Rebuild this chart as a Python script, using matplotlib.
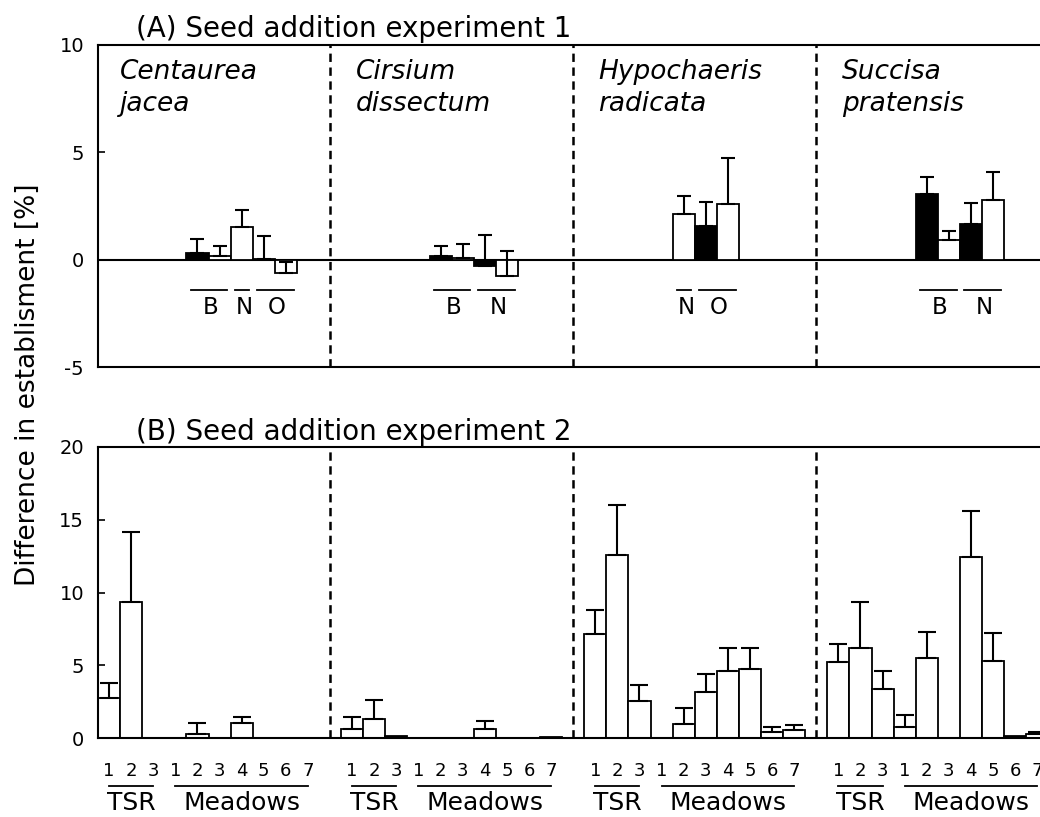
import numpy as np
import matplotlib
matplotlib.use('Agg')
import matplotlib.pyplot as plt
from matplotlib.transforms import blended_transform_factory

plt.rcParams['font.family'] = ['DejaVu Sans']
plt.rcParams['lines.scale_dashes'] = False

nan = np.nan

# ---------------- data ----------------
species_genus = ['Centaurea', 'Cirsium', 'Hypochaeris', 'Succisa']
species_epithet = ['jacea', 'dissectum', 'radicata', 'pratensis']

# Panel A: experiment 1 (slot index within each species block)
a_pos = [[4, 5, 6, 7, 8], [4, 5, 6, 7], [4, 5, 6], [4, 5, 6, 7]]
a_val = [[0.33, 0.15, 1.50, 0.05, -0.60],
         [0.19, 0.06, -0.28, -0.78],
         [2.14, 1.55, 2.60],
         [3.08, 0.93, 1.65, 2.77]]
a_err = [[0.65, 0.50, 0.80, 1.05, 0.50],
         [0.43, 0.69, 1.45, 1.17],
         [0.83, 1.12, 2.12],
         [0.78, 0.41, 0.97, 1.33]]
a_fill = [['k', 'w', 'w', 'k', 'w'],
          ['k', 'w', 'k', 'w'],
          ['w', 'k', 'w'],
          ['k', 'w', 'k', 'w']]
a_groups = [[('B', 4, 5), ('N', 6, 6), ('O', 7, 8)],
            [('B', 4, 5), ('N', 6, 7)],
            [('N', 4, 4), ('O', 5, 6)],
            [('B', 4, 5), ('N', 6, 7)]]

# Panel B: experiment 2 (TSR 1-3, Meadows 1-7)
b_ticklabels = ['1', '2', '3', '1', '2', '3', '4', '5', '6', '7']
b_val = [[2.77, 9.33, nan, nan, 0.25, nan, 1.00, nan, nan, nan],
         [0.60, 1.28, 0.14, nan, nan, nan, 0.60, nan, nan, 0.10],
         [7.15, 12.58, 2.57, nan, 0.94, 3.16, 4.60, 4.74, 0.39, 0.55],
         [5.25, 6.21, 3.34, 0.78, 5.52, nan, 12.42, 5.29, 0.12, 0.27]]
b_err = [[1.03, 4.83, nan, nan, 0.75, nan, 0.42, nan, nan, nan],
         [0.87, 1.33, nan, nan, nan, nan, 0.57, nan, nan, nan],
         [1.65, 3.42, 1.07, nan, 1.14, 1.22, 1.60, 1.46, 0.34, 0.34],
         [1.21, 3.16, 1.26, 0.78, 1.74, nan, 3.20, 1.90, nan, 0.16]]
b_fill = [['w'] * 10,
          ['w', 'w', 'k', 'w', 'w', 'w', 'w', 'w', 'w', 'k'],
          ['w'] * 10,
          ['w', 'w', 'w', 'w', 'w', 'w', 'w', 'w', 'k', 'w']]
b_groups = [('TSR', 0, 2), ('Meadows', 3, 9)]

BLOCK = 11
W, H = 1040, 817

fig = plt.figure(figsize=(W / 100, H / 100), dpi=100)

left = 98 / W
unit_px = 22.1
xlo, xhi = -0.5, 43.5
width = (xhi - xlo) * unit_px / W

axA = fig.add_axes([left, (H - 367) / H, width, (367 - 45) / H])
axB = fig.add_axes([left, (H - 738) / H, width, (738 - 447) / H])

LW = 1.5
for ax in (axA, axB):
    ax.set_xlim(xlo, xhi)
    ax.set_xticks([])
    for sp in ax.spines.values():
        sp.set_linewidth(LW)
    ax.tick_params(axis='y', direction='in', length=5, width=1.2,
                   labelsize=14, pad=10)
    for s in range(1, 4):
        ax.axvline(s * BLOCK - 1, color='k', lw=1.8, dashes=(6, 4))

# ---- Panel A ----
axA.set_ylim(-5, 10)
axA.set_yticks([-5, 0, 5, 10])
axA.set_yticklabels(['-5', '0', '5', '10'])
axA.axhline(0, color='k', lw=LW, zorder=1)
for s in range(4):
    x = [s * BLOCK + p for p in a_pos[s]]
    axA.bar(x, a_val[s], width=1.0, color=a_fill[s], edgecolor='k',
            linewidth=1.3, zorder=2)
    axA.errorbar(x, a_val[s], yerr=[np.zeros(len(x)), a_err[s]], fmt='none',
                 ecolor='k', elinewidth=1.5, capsize=5, capthick=1.5, zorder=3)
    for lab, f, l in a_groups[s]:
        axA.plot([s * BLOCK + f - 0.3, s * BLOCK + l + 0.35], [-1.4, -1.4],
                 color='k', lw=1.3)
        axA.text(s * BLOCK + (f + l) / 2 + 0.1, -2.25, lab, ha='center',
                 va='center', fontsize=16.5)

for s in range(4):
    xt = max(s * BLOCK + 0.15, 0.5)
    axA.text(xt, 8.41, species_genus[s], style='italic', fontsize=19,
             ha='left', va='baseline')
    axA.text(xt, 6.92, species_epithet[s], style='italic', fontsize=19,
             ha='left', va='baseline')

# ---- Panel B ----
axB.set_ylim(0, 20)
axB.set_yticks([0, 5, 10, 15, 20])
axB.set_yticklabels(['0', '5', '10', '15', '20'])
trB = blended_transform_factory(axB.transData, axB.transAxes)
for s in range(4):
    x = np.array([s * BLOCK + i for i in range(10)])
    v = np.array(b_val[s])
    e = np.array(b_err[s])
    m = ~np.isnan(v)
    axB.bar(x[m], v[m], width=1.0, color=np.array(b_fill[s])[m],
            edgecolor='k', linewidth=1.3, zorder=2)
    me = ~np.isnan(e)
    axB.errorbar(x[me], v[me], yerr=[np.zeros(me.sum()), e[me]], fmt='none',
                 ecolor='k', elinewidth=1.5, capsize=6.5, capthick=1.5,
                 zorder=3)
    for i, lab in enumerate(b_ticklabels):
        axB.text(x[i], -0.113, lab, transform=trB, ha='center', va='center',
                 fontsize=13, clip_on=False)
    for lab, f, l in b_groups:
        axB.plot([s * BLOCK + f, s * BLOCK + l], [-0.165, -0.165],
                 transform=trB, color='k', lw=1.3, clip_on=False)
        axB.text(s * BLOCK + (f + l) / 2, -0.225, lab, transform=trB,
                 ha='center', va='center', fontsize=18, clip_on=False)

# ---- titles & y label ----
fig.text(136 / W, 1 - 37 / H, '(A) Seed addition experiment 1', fontsize=20,
         ha='left', va='baseline')
fig.text(136 / W, 1 - 440 / H, '(B) Seed addition experiment 2', fontsize=20,
         ha='left', va='baseline')
fig.text(28 / W, 1 - 385 / H, 'Difference in establisment [%]', fontsize=19,
         rotation=90, ha='center', va='center')

fig.savefig('out.png', dpi=100)
